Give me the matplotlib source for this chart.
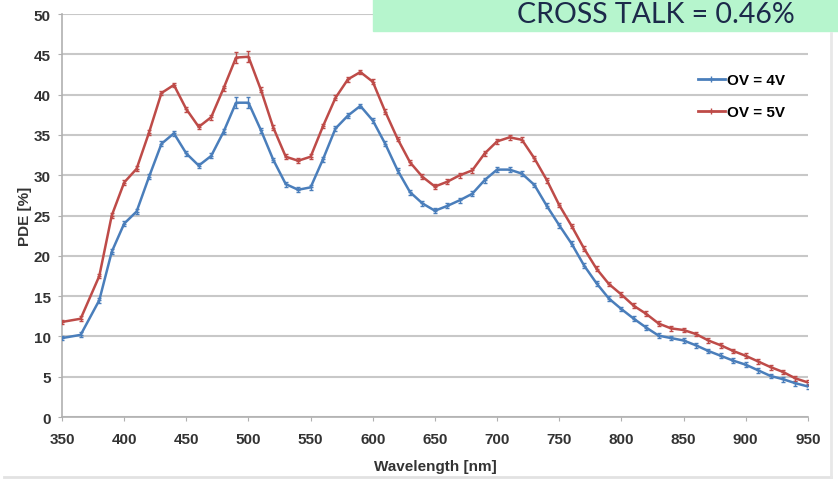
import matplotlib.pyplot as plt
from matplotlib.lines import Line2D

# wavelength grid [nm]
wavelength = [350, 365, 380, 390] + list(range(400, 951, 10))

# PDE [%] at two overvoltages
pde_4v = [9.8, 10.2, 14.5, 20.5, 24.0, 25.5, 29.8, 33.9, 35.2, 32.7,
          31.2, 32.4, 35.4, 39.0, 39.0, 35.6, 31.9, 28.9, 28.2, 28.5,
          32.0, 35.8, 37.4, 38.6, 36.8, 33.9, 30.6, 27.9, 26.5, 25.6,
          26.2, 26.9, 27.7, 29.4, 30.7, 30.7, 30.2, 28.8, 26.2, 23.8,
          21.5, 18.8, 16.6, 14.7, 13.4, 12.2, 11.1, 10.1, 9.8, 9.5,
          8.9, 8.2, 7.6, 7.0, 6.5, 5.8, 5.1, 4.7, 4.2, 3.8]
pde_5v = [11.8, 12.2, 17.5, 25.0, 29.1, 30.8, 35.3, 40.2, 41.2, 38.2,
          36.0, 37.2, 40.8, 44.6, 44.7, 40.6, 35.9, 32.3, 31.8, 32.3,
          36.1, 39.6, 41.9, 42.8, 41.6, 37.9, 34.5, 31.6, 29.8, 28.6,
          29.2, 30.0, 30.6, 32.7, 34.2, 34.7, 34.4, 32.1, 29.4, 26.3,
          23.7, 20.9, 18.4, 16.5, 15.2, 13.8, 12.8, 11.6, 11.0, 10.8,
          10.3, 9.5, 8.9, 8.2, 7.6, 6.9, 6.2, 5.6, 4.8, 4.3]

# error bars, a bit larger around the 490-500 nm peak
err = [0.7 if w in (490, 500) else 0.3 for w in wavelength]

blue = '#4a7ebb'
red = '#be4b48'
txt = '#333333'

fig = plt.figure(figsize=(8.38, 4.85), dpi=100)
ax = fig.add_axes([0.074, 0.138, 0.890, 0.831])

ax.errorbar(wavelength, pde_4v, yerr=err, color=blue, lw=1.8, capsize=1.5,
            elinewidth=1, capthick=1, marker='_', ms=3, zorder=3)
ax.errorbar(wavelength, pde_5v, yerr=err, color=red, lw=1.8, capsize=1.5,
            elinewidth=1, capthick=1, marker='_', ms=3, zorder=3)

ax.set_xlim(350, 950)
ax.set_ylim(0, 50)
ax.set_xticks(range(350, 951, 50))
ax.set_yticks(range(0, 51, 5))
ax.grid(axis='y', color='#c8c8c8', lw=1.5)
ax.set_axisbelow(True)
for s in ['top', 'right']:
    ax.spines[s].set_visible(False)
for s in ['left', 'bottom']:
    ax.spines[s].set_color('#b0b0b0')
    ax.spines[s].set_linewidth(1.2)
ax.tick_params(axis='both', colors='#b0b0b0', labelcolor=txt, length=3,
               labelsize=11, direction='out')
ax.tick_params(axis='x', pad=8)
ax.tick_params(axis='y', pad=5)
for lab in ax.get_xticklabels() + ax.get_yticklabels():
    lab.set_fontweight('bold')
    lab.set_family('Liberation Sans')

ax.set_xlabel('Wavelength [nm]', fontsize=11, fontweight='bold', color=txt,
              family='Liberation Sans', labelpad=9)
ax.set_ylabel('PDE [%]', fontsize=11, fontweight='bold', color=txt,
              family='Liberation Sans', labelpad=1.5)

handles = [Line2D([], [], color=blue, lw=2, marker='+', ms=5),
           Line2D([], [], color=red, lw=2, marker='+', ms=5)]
ax.legend(handles, ['OV = 4V', 'OV = 5V'], loc='upper left',
          bbox_to_anchor=(0.8525, 0.853), frameon=False, borderaxespad=0,
          borderpad=0, handlelength=1.75, handletextpad=0.15, labelspacing=1.15,
          prop={'family': 'Liberation Sans', 'weight': 'bold', 'size': 11})

# cross-talk banner along the top edge
fig.patches.append(plt.Rectangle((373 / 838, 1 - 32 / 485), 1, 32 / 485,
                                 transform=fig.transFigure, color='#b6f5cd',
                                 zorder=0))
fig.text(795 / 838, 1 - 23 / 485, 'CROSS TALK = 0.46%', ha='right', va='baseline',
         fontsize=20.5, color='#1c2a4a', family='Lato')

# faint slide frame
fig.lines.append(Line2D([0.005, 0.992], [1 - 478 / 485] * 2, transform=fig.transFigure,
                        color='#e2e2e2', lw=2))
fig.lines.append(Line2D([0.992, 0.992], [1 - 478 / 485, 0.93], transform=fig.transFigure,
                        color='#e8e8e8', lw=2))

fig.savefig('out.png', dpi=100)
